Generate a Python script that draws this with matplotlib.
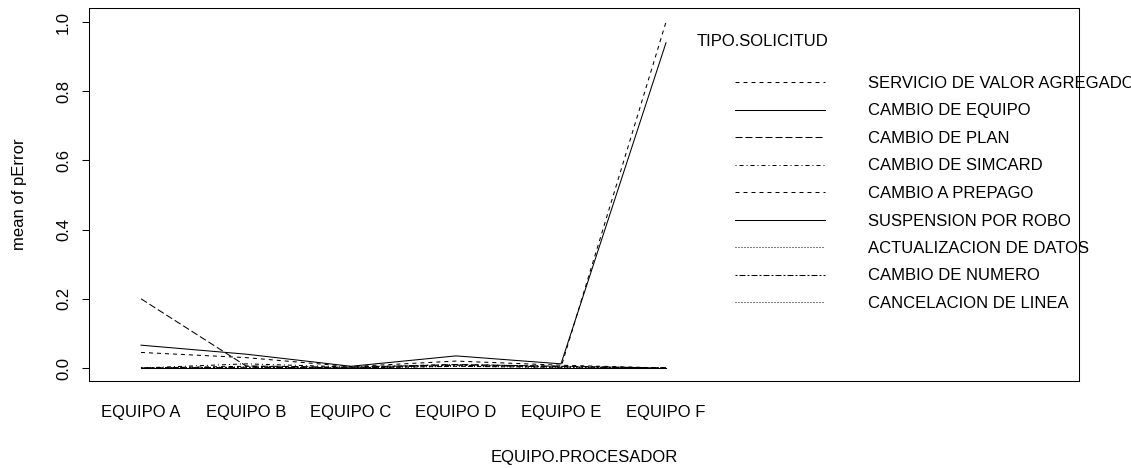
"""Interaction plot: mean pError by EQUIPO.PROCESADOR and TIPO.SOLICITUD."""

import matplotlib
matplotlib.use("Agg")
import matplotlib.pyplot as plt
import numpy as np

plt.rcParams["font.family"] = ["Liberation Sans", "DejaVu Sans"]
plt.rcParams["lines.scale_dashes"] = False

equipos = ["EQUIPO A", "EQUIPO B", "EQUIPO C", "EQUIPO D", "EQUIPO E", "EQUIPO F"]

# values, one list per request type
servicio_valor = [0.0, 0.005, 0.0, 0.005, 0.002, 1.0]
cambio_equipo = [0.066, 0.040, 0.005, 0.035, 0.012, 0.94]
cambio_plan = [0.20, 0.006, 0.002, 0.010, 0.005, 0.0]
cambio_simcard = [0.0, 0.012, 0.003, 0.010, 0.005, 0.0]
cambio_prepago = [0.045, 0.030, 0.004, 0.020, 0.008, 0.0]
suspension_robo = [0.0, 0.0, 0.0, 0.0, 0.0, 0.0]
actualizacion = [0.0, 0.003, 0.0, 0.005, 0.002, 0.0]
cambio_numero = [0.0, 0.002, 0.0, 0.008, 0.003, 0.0]
cancelacion = [0.0, 0.0, 0.0, 0.0, 0.0, 0.0]

series = [
    ("SERVICIO DE VALOR AGREGADO", servicio_valor),
    ("CAMBIO DE EQUIPO", cambio_equipo),
    ("CAMBIO DE PLAN", cambio_plan),
    ("CAMBIO DE SIMCARD", cambio_simcard),
    ("CAMBIO A PREPAGO", cambio_prepago),
    ("SUSPENSION POR ROBO", suspension_robo),
    ("ACTUALIZACION DE DATOS", actualizacion),
    ("CAMBIO DE NUMERO", cambio_numero),
    ("CANCELACION DE LINEA", cancelacion),
]

# R line types (dashed, solid, longdash, dotdash, dotted, twodash) in points
px = 0.72
r_lty = {
    "dashed": (0, (4 * px, 4 * px)),
    "solid": "-",
    "longdash": (0, (7 * px, 3 * px)),
    "dotdash": (0, (1 * px, 3 * px, 4 * px, 3 * px)),
    "dotted": (0, (1 * px, 2 * px)),
    "twodash": (0, (2 * px, 2 * px, 6 * px, 2 * px)),
}
styles = ["dashed", "solid", "longdash", "dotdash", "dashed",
          "solid", "dotted", "twodash", "dotted"]

fig = plt.figure(figsize=(11.31, 4.68), dpi=100)
ax = fig.add_axes([89 / 1131, 87 / 468, 990 / 1131, 373 / 468])

x = np.arange(1, len(equipos) + 1)
handles = []
for (name, vals), st in zip(series, styles):
    (ln,) = ax.plot(x, vals, color="black", linewidth=0.75,
                    linestyle=r_lty[st], label=name)
    handles.append(ln)

ax.set_xlim(1 - 52 / 105, 6 + 413 / 105)
ax.set_ylim(-13 / 346, 1 + 14 / 346)
ax.set_xticks(x)
ax.set_xticklabels(equipos)
ax.tick_params(axis="x", length=0, pad=17, labelsize=12)
ax.set_yticks([0.0, 0.2, 0.4, 0.6, 0.8, 1.0])
ax.set_yticklabels(["0.0", "0.2", "0.4", "0.6", "0.8", "1.0"],
                   rotation=90, va="center")
ax.tick_params(axis="y", length=5, width=0.75, pad=8, labelsize=12)
for sp in ax.spines.values():
    sp.set_linewidth(0.75)

ax.set_xlabel("EQUIPO.PROCESADOR", fontsize=12, labelpad=22)
ax.set_ylabel("mean of pError", fontsize=12, labelpad=21)

ax.text((697 - 89) / 990, (468 - 41 - 87) / 373,
        "TIPO.SOLICITUD", transform=ax.transAxes, fontsize=12,
        ha="left", va="center")
leg = ax.legend(handles=handles, loc="upper left",
                bbox_to_anchor=((735 - 89) / 990, (468 - 76 - 87) / 373),
                frameon=False, fontsize=12, handlelength=5.4,
                handletextpad=2.6, labelspacing=0.75, borderpad=0,
                borderaxespad=0)
leg.set_clip_on(False)

fig.savefig("out.png", dpi=100)
